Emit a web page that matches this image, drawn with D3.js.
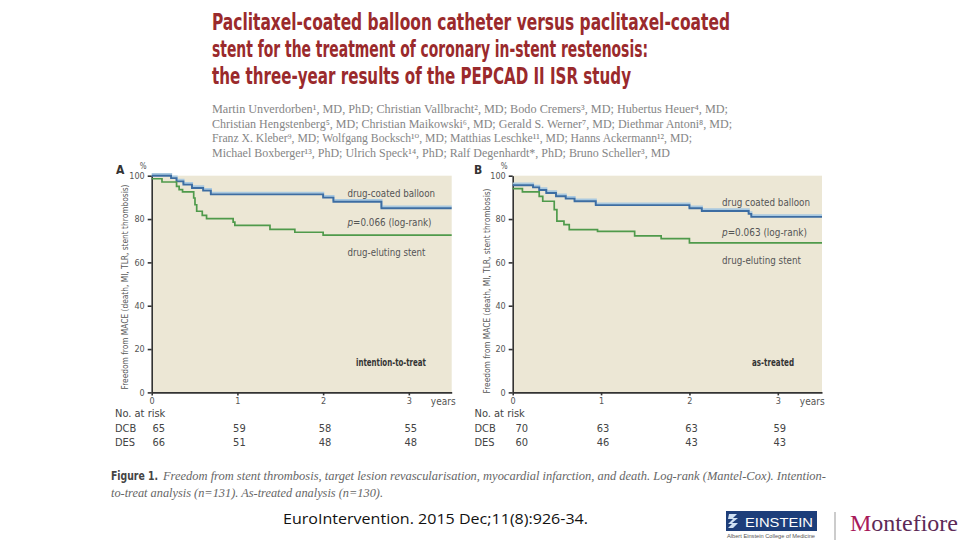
<!DOCTYPE html>
<html><head><meta charset="utf-8">
<script src="https://cdn.jsdelivr.net/npm/d3@7/dist/d3.min.js"></script>
<style>
body{margin:0;background:#fff;}
svg{display:block;}
.narrow{font-family:"Liberation Sans Narrow","DejaVu Sans Condensed","Roboto Condensed","Arial Narrow",sans-serif;font-stretch:condensed;}
.serif{font-family:"Liberation Serif","DejaVu Serif",serif;}
</style></head><body>
<svg id="c" width="960" height="540"></svg>
<script>
// ---------- data ----------
const titleLines = [
  "Paclitaxel-coated balloon catheter versus paclitaxel-coated",
  "stent for the treatment of coronary in-stent restenosis:",
  "the three-year results of the PEPCAD II ISR study"
];
const authorLines = [
  "Martin Unverdorben¹, MD, PhD; Christian Vallbracht², MD; Bodo Cremers³, MD; Hubertus Heuer⁴, MD;",
  "Christian Hengstenberg⁵, MD; Christian Maikowski⁶, MD; Gerald S. Werner⁷, MD; Diethmar Antoni⁸, MD;",
  "Franz X. Kleber⁹, MD; Wolfgang Bocksch¹⁰, MD; Matthias Leschke¹¹, MD; Hanns Ackermann¹², MD;",
  "Michael Boxberger¹³, PhD; Ulrich Speck¹⁴, PhD; Ralf Degenhardt*, PhD; Bruno Scheller³, MD"
];
const yTickValues = [0, 20, 40, 60, 80, 100];
const yearTicks = [0, 1, 2, 3];
const yAxisLabel = "Freedom from MACE (death, MI, TLR, stent thrombosis)";

// Panel A: intention-to-treat (time in years, freedom in %)
const dcbA_t = [0, 0.226, 0.29, 0.37, 0.47, 0.60, 0.69, 2.0, 2.12, 2.68, 3.5];
const dcbA_s = [100, 98.9, 97.4, 95.9, 94.3, 93.1, 91.4, 89.9, 88.0, 85.0, 85.0];
const desA_t = [0, 0.12, 0.29, 0.32, 0.36, 0.49, 0.505, 0.525, 0.59, 0.64, 0.95, 0.97, 1.38, 1.67, 2.0, 3.5];
const desA_s = [98.6, 97.1, 95.1, 93.6, 92.5, 89.7, 86.6, 83.6, 81.7, 80.2, 78.6, 77.1, 75.2, 73.9, 72.6, 72.6];
// Panel B: as-treated
const dcbB_t = [0, 0.23, 0.30, 0.38, 0.49, 0.60, 0.70, 0.94, 2.0, 2.14, 2.67, 2.70, 3.5];
const dcbB_s = [95.6, 94.6, 93.4, 92.0, 90.5, 89.4, 88.2, 86.4, 85.0, 83.7, 82.4, 81.0, 81.0];
const desB_t = [0, 0.11, 0.30, 0.34, 0.47, 0.50, 0.58, 0.64, 0.96, 1.38, 1.68, 2.0, 3.5];
const desB_s = [94.0, 92.5, 90.5, 88.2, 84.3, 79.0, 77.4, 75.1, 74.3, 72.2, 71.0, 69.0, 69.0];

// Numbers at risk
const riskGroups = ["DCB", "DES"];
const dcbRiskA = [65, 59, 58, 55];
const desRiskA = [66, 51, 48, 48];
const dcbRiskB = [70, 63, 63, 59];
const desRiskB = [60, 46, 43, 43];

const panelLabels = ["A", "B"];
const labelDCB_A = "drug-coated balloon";
const labelDCB_B = "drug coated balloon";
const labelDES = "drug-eluting stent";
const pValues = ["0.066", "0.063"];
const analysisLabels = ["intention-to-treat", "as-treated"];

const captionBold = "Figure 1.";
const captionLine1 = "Freedom from stent thrombosis, target lesion revascularisation, myocardial infarction, and death. Log-rank (Mantel-Cox). Intention-";
const captionLine2 = "to-treat analysis (n=131). As-treated analysis (n=130).";
const citation = "EuroIntervention. 2015 Dec;11(8):926-34.";

// ---------- drawing ----------
const svg = d3.select("#c");
svg.append("rect").attr("width", 960).attr("height", 540).attr("fill", "#fff");

const RED = "#9a2a2c";
const BLUE = "#3d6da2", LBLUE = "#a9c9e0", GREEN = "#4f9a4b";
const BG = "#ece7d5", AX = "#333", TXT = "#555";

// Title
const tW = [518, 436, 419];
svg.selectAll("text.title").data(titleLines).join("text")
  .attr("class", "title narrow")
  .attr("x", 212).attr("y", (d, i) => 30 + i * 27)
  .attr("font-size", 23).attr("font-weight", "bold").attr("fill", RED)
  .attr("textLength", (d, i) => tW[i]).attr("lengthAdjust", "spacingAndGlyphs")
  .text(d => d);

// Authors
const aW = [516, 520, 480, 458];
svg.selectAll("text.auth").data(authorLines).join("text")
  .attr("class", "auth serif")
  .attr("x", 212).attr("y", (d, i) => 113 + i * 14.5)
  .attr("font-size", 11.5).attr("fill", "#858585")
  .attr("textLength", (d, i) => aW[i]).attr("lengthAdjust", "spacingAndGlyphs")
  .text(d => d);

function drawPanel(o) {
  const g = svg.append("g");
  const x = d3.scaleLinear().domain([0, 3.5]).range([o.x0, o.x1]);
  const y = d3.scaleLinear().domain([0, 100]).range([392.4, 175.7]);

  g.append("rect").attr("x", x(0)).attr("y", y(100))
    .attr("width", x(3.5) - x(0)).attr("height", y(0) - y(100)).attr("fill", BG);

  // axes
  const ya = g.append("g").attr("transform", `translate(${x(0)},0)`)
    .call(d3.axisLeft(y).tickValues(yTickValues).tickFormat(d3.format("d"))
      .tickSize(4).tickSizeOuter(0).tickPadding(3));
  const xa = g.append("g").attr("transform", `translate(0,${y(0)})`)
    .call(d3.axisBottom(x).tickValues(yearTicks).tickFormat(d3.format("d"))
      .tickSize(3).tickSizeOuter(0).tickPadding(2));
  [ya, xa].forEach(a => {
    a.select(".domain").attr("stroke", AX).attr("stroke-width", 1.6);
    a.selectAll(".tick line").attr("stroke", AX).attr("stroke-width", 1.6);
    a.selectAll(".tick text").attr("class", "narrow").attr("font-size", 9).attr("fill", TXT);
  });

  // years label
  g.append("text").attr("class", "narrow").attr("x", x(3) + o.yearsDx).attr("y", 405)
    .attr("font-size", 10).attr("fill", TXT).text("years");

  // panel letter and %
  g.append("text").attr("class", "narrow").attr("x", o.letterX).attr("y", 174)
    .attr("font-size", 12).attr("font-weight", "bold").attr("fill", "#333").text(o.letter);
  g.append("text").attr("class", "narrow").attr("x", x(0) - 12).attr("y", 169)
    .attr("font-size", 8).attr("fill", TXT).text("%");

  // y label
  g.append("text").attr("class", "narrow")
    .attr("transform", `translate(${o.ylabX},${o.ylabY}) rotate(-90)`)
    .attr("text-anchor", "middle").attr("dy", "0.35em")
    .attr("font-size", 9.5).attr("fill", TXT)
    .attr("textLength", 205).attr("lengthAdjust", "spacingAndGlyphs")
    .text(yAxisLabel);

  const line = d3.line().x(d => x(d[0])).y(d => y(d[1])).curve(d3.curveStepAfter);
  const dcb = d3.zip(o.dcbT, o.dcbS), des = d3.zip(o.desT, o.desS);
  g.append("path").attr("d", line(dcb)).attr("fill", "none").attr("stroke", LBLUE)
    .attr("stroke-width", 2.2).attr("transform", "translate(0,-1.6)");
  g.append("path").attr("d", line(dcb)).attr("fill", "none").attr("stroke", BLUE).attr("stroke-width", 1.9);
  g.append("path").attr("d", line(des)).attr("fill", "none").attr("stroke", GREEN).attr("stroke-width", 1.7);

  // annotations
  const ann = g.append("g").attr("class", "narrow").attr("font-size", 10.5).attr("fill", TXT);
  ann.append("text").attr("x", o.annX).attr("y", o.annY[0])
    .attr("textLength", o.annW[0]).attr("lengthAdjust", "spacingAndGlyphs").text(o.dcbLabel);
  const pt = ann.append("text").attr("x", o.annX).attr("y", o.annY[1])
    .attr("textLength", o.annW[1]).attr("lengthAdjust", "spacingAndGlyphs");
  pt.append("tspan").attr("font-style", "italic").text("p");
  pt.append("tspan").text("=" + o.p + " (log-rank)");
  ann.append("text").attr("x", o.annX).attr("y", o.annY[2])
    .attr("textLength", o.annW[2]).attr("lengthAdjust", "spacingAndGlyphs").text(labelDES);
  ann.append("text").attr("x", o.anaX).attr("y", 366).attr("font-weight", "bold").attr("fill", "#333")
    .attr("font-size", 10)
    .attr("textLength", o.anaW).attr("lengthAdjust", "spacingAndGlyphs").text(o.analysis);

  // numbers at risk
  const rt = g.append("g").attr("class", "narrow").attr("font-size", 11).attr("fill", "#444");
  rt.append("text").attr("x", o.riskX).attr("y", 417).text("No. at risk");
  [o.dcbRisk, o.desRisk].forEach((vals, r) => {
    const yy = 432 + r * 14;
    rt.append("text").attr("x", o.riskX).attr("y", yy).text(riskGroups[r]);
    rt.selectAll(null).data(vals).join("text")
      .attr("x", (d, i) => x(yearTicks[i]) + (i === 0 ? o.firstDx : 2))
      .attr("y", yy).attr("text-anchor", "middle").text(d => d);
  });
}

drawPanel({
  x0: 151.7, x1: 451.7, letter: panelLabels[0], letterX: 116, yearsDx: 22,
  ylabX: 125, ylabY: 287,
  dcbT: dcbA_t, dcbS: dcbA_s, desT: desA_t, desS: desA_s,
  annX: 347.5, annY: [197, 226, 255.5], annW: [87.5, 84, 78],
  dcbLabel: labelDCB_A, p: pValues[0],
  analysis: analysisLabels[0], anaX: 356, anaW: 70,
  riskX: 115, dcbRisk: dcbRiskA, desRisk: desRiskA, firstDx: 7
});
drawPanel({
  x0: 512.7, x1: 822, letter: panelLabels[1], letterX: 474, yearsDx: 22,
  ylabX: 486.5, ylabY: 291,
  dcbT: dcbB_t, dcbS: dcbB_s, desT: desB_t, desS: desB_s,
  annX: 722, annY: [206, 235.5, 264], annW: [88, 85, 79],
  dcbLabel: labelDCB_B, p: pValues[1],
  analysis: analysisLabels[1], anaX: 752, anaW: 42,
  riskX: 474.5, dcbRisk: dcbRiskB, desRisk: desRiskB, firstDx: 9
});

// Caption
svg.append("text").attr("class", "narrow").attr("x", 111).attr("y", 480)
  .attr("font-size", 12.5).attr("font-weight", "bold").attr("fill", "#444")
  .attr("textLength", 47).attr("lengthAdjust", "spacingAndGlyphs").text(captionBold);
svg.append("text").attr("class", "serif").attr("x", 163).attr("y", 480)
  .attr("font-size", 11.5).attr("font-style", "italic").attr("fill", "#666")
  .attr("textLength", 663).attr("lengthAdjust", "spacingAndGlyphs").text(captionLine1);
svg.append("text").attr("class", "serif").attr("x", 111).attr("y", 496.5)
  .attr("font-size", 11.5).attr("font-style", "italic").attr("fill", "#666")
  .attr("textLength", 272).attr("lengthAdjust", "spacingAndGlyphs").text(captionLine2);

// Citation
svg.append("text").attr("x", 283).attr("y", 524)
  .attr("font-family", "'Open Sans','Liberation Sans',sans-serif")
  .attr("font-size", 14).attr("fill", "#111")
  .attr("textLength", 305).attr("lengthAdjust", "spacingAndGlyphs").text(citation);

// Logos
const lg = svg.append("g");
lg.append("rect").attr("x", 726).attr("y", 511).attr("width", 91).attr("height", 20).attr("fill", "#1d3e7a");
lg.append("path").attr("d", "M729,514 h8 l-4,4 h5 l-6,5 h6 l-5,5 h-5 l4,-4 h-4 l5,-5 h-5 z")
  .attr("fill", "#cfe0f3");
lg.append("text").attr("x", 745).attr("y", 526.5)
  .attr("font-family", "'Liberation Sans','DejaVu Sans',sans-serif").attr("font-size", 13)
  .attr("fill", "#fff").attr("textLength", 68).attr("lengthAdjust", "spacingAndGlyphs").text("EINSTEIN");
lg.append("text").attr("x", 727).attr("y", 537.5)
  .attr("font-family", "'Liberation Sans',sans-serif").attr("font-size", 5).attr("fill", "#555")
  .attr("textLength", 88).attr("lengthAdjust", "spacingAndGlyphs").text("Albert Einstein College of Medicine");
lg.append("line").attr("x1", 835).attr("x2", 835).attr("y1", 512).attr("y2", 540)
  .attr("stroke", "#999").attr("stroke-width", 1);
const mt = lg.append("text").attr("x", 850).attr("y", 531)
  .attr("font-family", "'Liberation Serif','DejaVu Serif',serif").attr("font-size", 24)
  .attr("textLength", 108).attr("lengthAdjust", "spacingAndGlyphs");
mt.append("tspan").attr("fill", "#a8195a").text("M");
mt.append("tspan").attr("fill", "#5d2a57").text("ontefiore");
</script>
</body></html>
